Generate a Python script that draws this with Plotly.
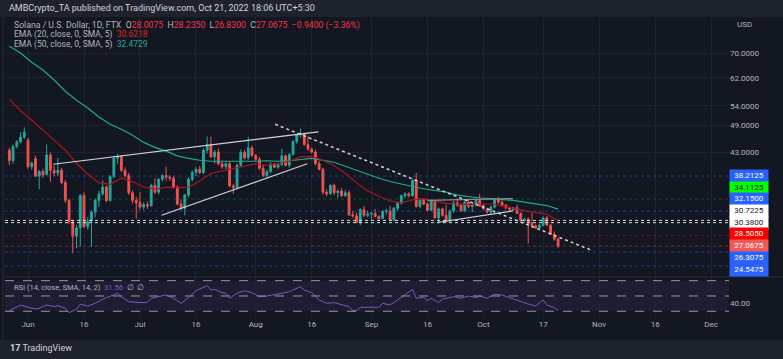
import math
import pandas as pd
import plotly.graph_objects as go

# ---------------- data ----------------
start_date = "2022-05-27"

opens = [
    43.4, 41.2, 44.2, 45.2, 46.3,
    45.6, 40.0, 41.6, 38.2, 39.1, 38.5, 42.4, 39.3, 38.8, 39.3, 37.0, 33.9, 30.5, 28.4, 29.6,
    34.7, 29.8, 30.6, 32.0, 33.9, 35.0, 36.2, 33.9, 38.1, 41.7, 42.1, 39.3, 38.3, 35.2, 33.9,
    33.5, 32.8, 33.2, 33.0, 36.5, 35.3, 37.6, 38.3, 38.0, 37.8, 36.2, 33.3, 32.6, 34.8, 37.6,
    38.9, 39.5, 38.9, 43.4, 44.6, 42.0, 43.0, 40.6, 40.0, 40.6, 36.4, 36.1, 40.3, 42.9, 41.8, 43.9,
    42.3, 41.5, 39.7, 38.3, 39.1, 40.5, 39.9, 40.4, 42.2, 40.3, 42.5, 45.3, 46.8, 47.1, 44.6,
    43.6, 43.0, 40.6, 39.5, 35.3, 35.0, 36.5, 35.2, 35.5, 34.7, 35.2, 31.6, 31.4, 30.4, 32.4, 31.5,
    31.7, 31.8, 31.3, 31.0, 32.1, 32.2, 30.8, 32.6, 33.4, 34.7, 35.0, 34.7, 37.4, 32.9, 34.0,
    33.3, 32.3, 33.8, 31.1, 32.5, 31.5, 30.6, 32.2, 33.5, 33.1, 32.2, 33.6, 32.9, 33.2, 33.9,
    33.0, 32.5, 32.0, 32.8, 34.0, 33.6, 33.1, 32.7, 32.4, 32.7, 31.8, 30.7, 30.9, 30.3, 29.9,
    29.6, 30.0, 31.1, 30.0, 28.7, 28.0075,
]
highs = [
    43.9, 44.6, 45.6, 47.4, 48.6,
    46.2, 41.0, 42.2, 39.4, 39.6, 44.6, 42.9, 40.2, 41.8, 39.8, 37.5, 34.2, 30.8, 30.0, 35.0,
    35.3, 31.2, 32.3, 34.2, 35.5, 37.4, 36.5, 38.4, 42.2, 42.6, 42.4, 39.9, 38.8, 35.6, 34.5,
    35.3, 33.6, 33.7, 36.8, 37.8, 37.8, 38.6, 40.0, 38.4, 38.2, 36.5, 34.0, 35.0, 38.0, 39.3,
    39.9, 40.2, 43.8, 46.4, 46.4, 43.4, 43.8, 41.2, 40.9, 41.0, 36.8, 40.6, 43.5, 43.4, 46.3, 44.4,
    42.6, 42.0, 40.4, 39.4, 40.9, 40.8, 40.7, 43.7, 42.5, 42.8, 45.6, 47.0, 48.3, 47.3, 46.6,
    44.0, 43.5, 41.2, 39.8, 35.8, 36.7, 36.8, 35.8, 36.0, 35.7, 35.6, 32.2, 31.9, 32.6, 33.0, 32.2,
    32.0, 32.5, 31.5, 32.3, 32.5, 33.0, 32.8, 33.7, 34.9, 35.3, 35.3, 37.6, 38.8, 34.2, 34.3,
    33.6, 34.0, 34.0, 32.7, 32.7, 33.2, 32.4, 33.8, 34.3, 33.4, 33.8, 34.2, 33.4, 34.0, 35.0,
    33.3, 32.7, 33.0, 34.3, 34.5, 34.0, 33.3, 32.9, 32.8, 33.2, 32.0, 31.1, 31.2, 31.9, 30.1,
    30.2, 31.3, 31.4, 30.2, 29.1, 28.235,
]
lows = [
    40.3, 40.6, 43.8, 44.9, 45.8,
    39.6, 39.4, 38.0, 35.8, 37.9, 38.3, 37.1, 38.2, 38.2, 36.7, 33.5, 30.2, 26.1, 26.8, 27.0,
    29.6, 29.4, 27.0, 31.2, 32.8, 34.7, 33.6, 33.7, 37.8, 40.6, 39.0, 37.9, 34.8, 33.4, 31.0,
    32.4, 32.3, 32.5, 32.9, 35.0, 34.9, 37.2, 37.3, 37.3, 35.9, 33.1, 32.3, 31.5, 34.4, 37.2,
    38.2, 38.6, 38.6, 42.7, 41.7, 40.6, 40.3, 39.6, 39.6, 36.2, 35.0, 35.9, 40.0, 41.5, 41.4, 42.0,
    41.2, 39.4, 38.0, 37.9, 38.7, 39.8, 39.6, 40.2, 40.0, 39.8, 42.3, 44.8, 46.2, 44.4, 43.3,
    42.7, 40.3, 39.3, 34.9, 34.6, 34.9, 34.8, 34.3, 34.5, 34.5, 31.4, 31.1, 30.3, 30.0, 31.2, 31.2,
    30.8, 31.2, 30.8, 30.9, 31.6, 30.6, 30.5, 32.2, 33.2, 34.3, 34.4, 34.5, 32.7, 32.6, 33.1,
    32.1, 32.2, 31.0, 30.4, 31.3, 30.4, 30.4, 31.9, 32.9, 32.0, 32.0, 32.6, 32.0, 32.9, 32.8,
    32.3, 31.8, 31.7, 32.6, 33.3, 32.9, 32.4, 32.2, 32.2, 31.7, 30.6, 30.4, 27.4, 29.7, 29.5,
    29.5, 29.9, 29.9, 28.6, 27.8, 26.83,
]
closes = [
    41.2, 44.2, 45.2, 46.3, 47.4,
    40.0, 40.7, 38.2, 39.1, 38.4, 42.4, 39.3, 38.8, 39.3, 37.0, 33.9, 30.5, 28.4, 29.6, 34.7,
    29.8, 30.6, 32.0, 33.9, 35.0, 36.2, 33.9, 38.1, 41.7, 42.1, 39.3, 38.3, 35.2, 33.9, 33.5,
    32.8, 33.2, 33.0, 36.5, 35.3, 37.6, 38.3, 38.0, 37.8, 36.2, 33.3, 32.6, 34.8, 37.6, 38.9,
    39.5, 38.9, 43.4, 44.6, 42.0, 43.0, 40.6, 40.0, 40.6, 36.4, 36.1, 40.3, 42.9, 41.8, 43.9, 42.3,
    41.5, 39.7, 38.3, 39.1, 40.5, 39.9, 40.4, 42.2, 40.3, 42.5, 45.3, 46.8, 47.1, 44.6, 43.6,
    43.0, 40.6, 39.5, 35.3, 35.0, 36.5, 35.2, 35.5, 34.7, 35.2, 31.6, 31.4, 30.4, 32.4, 31.5, 31.7,
    31.8, 31.3, 31.0, 32.1, 32.2, 30.8, 32.6, 33.4, 34.7, 35.0, 34.7, 37.4, 32.9, 34.0, 33.3,
    32.3, 33.8, 31.1, 32.5, 31.5, 30.6, 32.2, 33.5, 33.1, 32.2, 33.6, 32.9, 33.2, 33.9, 33.0,
    32.5, 32.0, 32.8, 34.0, 33.6, 33.1, 32.7, 32.4, 32.7, 31.8, 30.7, 30.9, 30.3, 29.9, 29.6,
    30.0, 31.1, 30.0, 28.7, 28.0075, 27.0675,
]

ema_dates = ["2022-05-27", "2022-05-30", "2022-06-02", "2022-06-05", "2022-06-08", "2022-06-11",
             "2022-06-14", "2022-06-17", "2022-06-20", "2022-06-23", "2022-06-26", "2022-06-29",
             "2022-07-02", "2022-07-05", "2022-07-08", "2022-07-11", "2022-07-14", "2022-07-17",
             "2022-07-20", "2022-07-23", "2022-07-26", "2022-07-29", "2022-08-01", "2022-08-04",
             "2022-08-07", "2022-08-10", "2022-08-13", "2022-08-16", "2022-08-19", "2022-08-22",
             "2022-08-25", "2022-08-28", "2022-08-31", "2022-09-03", "2022-09-06", "2022-09-09",
             "2022-09-12", "2022-09-15", "2022-09-18", "2022-09-21", "2022-09-24", "2022-09-27",
             "2022-09-30", "2022-10-03", "2022-10-06", "2022-10-09", "2022-10-12", "2022-10-15",
             "2022-10-18", "2022-10-21"]
ema20 = [55.8, 52.7, 50.3, 48.0, 45.6, 43.4, 40.7, 38.6, 37.0, 36.7, 37.8, 37.2,
         36.2, 35.8, 36.2, 36.1, 36.2, 37.3, 38.7, 39.2, 39.7, 40.1, 40.6, 40.3,
         40.6, 41.1, 42.0, 42.1, 41.3, 40.2, 38.7, 37.0, 35.5, 34.6, 33.8, 33.5,
         34.0, 34.2, 33.8, 33.4, 33.3, 33.2, 33.3, 33.3, 33.0, 32.6, 32.2, 31.95,
         31.65, 30.6218]
ema50 = [72.4, 70.0, 66.9, 64.4, 61.3, 58.0, 55.5, 53.4, 51.1, 49.3, 48.1, 46.7,
         45.1, 44.0, 43.2, 42.2, 41.7, 41.3, 41.1, 41.1, 41.0, 41.0, 41.1, 41.2,
         41.1, 41.2, 41.5, 41.7, 41.3, 40.9, 40.1, 39.3, 38.6, 37.8, 37.2, 36.7,
         36.3, 35.9, 35.6, 35.3, 34.8, 34.5, 34.3, 34.2, 34.1, 33.9, 33.6, 33.35,
         33.05, 32.4729]

rsi_dates = ["2022-05-27", "2022-05-30", "2022-06-01", "2022-06-03", "2022-06-04", "2022-06-06",
             "2022-06-08", "2022-06-09", "2022-06-11", "2022-06-12", "2022-06-14", "2022-06-15",
             "2022-06-17", "2022-06-19", "2022-06-21", "2022-06-23", "2022-06-25", "2022-06-26",
             "2022-06-28", "2022-07-01", "2022-07-03", "2022-07-04", "2022-07-06", "2022-07-08",
             "2022-07-10", "2022-07-12", "2022-07-14", "2022-07-16", "2022-07-19", "2022-07-20",
             "2022-07-21", "2022-07-23", "2022-07-24", "2022-07-25", "2022-07-27", "2022-07-29",
             "2022-07-31", "2022-08-02", "2022-08-04", "2022-08-06", "2022-08-08", "2022-08-10",
             "2022-08-13", "2022-08-14", "2022-08-16", "2022-08-18", "2022-08-20", "2022-08-22",
             "2022-08-24", "2022-08-26", "2022-08-27", "2022-08-28", "2022-08-29", "2022-09-01",
             "2022-09-03", "2022-09-04", "2022-09-06", "2022-09-08", "2022-09-10", "2022-09-11",
             "2022-09-12", "2022-09-13", "2022-09-15", "2022-09-16", "2022-09-17", "2022-09-19",
             "2022-09-20", "2022-09-23", "2022-09-25", "2022-09-27", "2022-09-29", "2022-09-30",
             "2022-10-02", "2022-10-04", "2022-10-06", "2022-10-08", "2022-10-11", "2022-10-13",
             "2022-10-15", "2022-10-17", "2022-10-18", "2022-10-20", "2022-10-21"]
rsi = [30.8, 38.2, 35.2, 33.0, 33.9, 38.2, 36.1, 37.4, 33.9, 28.2, 32.6, 39.1,
       36.9, 40.4, 45.7, 50.0, 53.5, 49.1, 42.6, 41.3, 41.7, 47.0, 49.1, 51.3,
       47.0, 40.4, 47.8, 56.9, 63.5, 57.8, 58.7, 54.3, 53.5, 47.0, 53.5, 56.9,
       54.3, 49.1, 50.0, 51.3, 53.5, 55.6, 62.2, 57.8, 54.3, 44.8, 40.4, 41.3,
       38.2, 36.1, 30.8, 30.8, 35.2, 35.2, 35.2, 40.4, 38.2, 44.8, 51.3, 54.3,
       58.7, 47.0, 48.3, 43.9, 47.0, 41.3, 45.7, 49.1, 47.0, 50.0, 47.8, 50.0,
       47.0, 52.2, 51.3, 47.8, 42.6, 39.5, 36.9, 44.8, 38.2, 34.7, 31.56]

level_prices = [38.2125, 34.1125, 32.15, 30.7225, 30.38, 28.505, 27.0675, 26.3075, 24.5475]
level_labels = ["38.2125", "34.1125", "32.1500", "30.7225", "30.3800", "28.5050",
                "27.0675", "26.3075", "24.5475"]

price_ticks = [43, 49, 54, 62, 70]
price_tick_text = ["43.0000", "49.0000", "54.0000", "62.0000", "70.0000"]

time_tick_dates = ["2022-06-01", "2022-06-16", "2022-07-01", "2022-07-16", "2022-08-01",
                   "2022-08-16", "2022-09-01", "2022-09-16", "2022-10-01", "2022-10-17",
                   "2022-11-01", "2022-11-16", "2022-12-01"]
time_tick_labels = ["Jun", "16", "Jul", "16", "Aug", "16", "Sep", "16", "Oct", "17",
                    "Nov", "16", "Dec"]

# drawn trend lines: (date, price) end points
wedge_top = (["2022-06-07 18:00", "2022-08-17 19:00"], [40.5, 47.5])
wedge_bottom = (["2022-07-06 19:00", "2022-08-14 19:00"], [31.5, 40.6])
down_dashed = (["2022-08-06 05:00", "2022-10-30 02:00"], [49.3, 26.5])
flag_top = (["2022-09-15 22:00", "2022-10-08 22:00"], [33.9, 34.2])
flag_bottom = (["2022-09-18 14:00", "2022-10-08 22:00"], [30.4, 32.2])

# ---------------- styling / layout ----------------
W, H = 783, 359
L, R, T, B = 5, 54, 17, 41
PW, PH = W - L - R, H - T - B
rsi_h = 41
split = rsi_h / PH

px_per_day = 3.733
jun1 = pd.Timestamp("2022-06-01")
x0 = jun1 - pd.Timedelta(days=(28 - L) / px_per_day)
x1 = x0 + pd.Timedelta(days=PW / px_per_day)

BG = "#131722"
UP, DOWN = "#26a69a", "#ef5350"
EMA20C, EMA50C = "#b2151a", "#1fab8a"
TXT = "#b2b5be"
FONT = "Roboto, Liberation Sans, sans-serif"

dates = pd.date_range(start_date, periods=len(closes), freq="D")

fig = go.Figure()

# horizontal level lines
lvl_style = {
    "38.2125": ("rgba(41,98,255,0.55)", "#2962ff", "white"),
    "34.1125": ("rgba(0,200,0,0.35)", "#00ff00", "#131722"),
    "32.1500": ("rgba(41,98,255,0.55)", "#2962ff", "white"),
    "30.7225": ("rgba(255,255,255,0.85)", "#ffffff", "#131722"),
    "30.3800": ("rgba(255,255,255,0.85)", "#ffffff", "#131722"),
    "28.5050": ("rgba(255,0,0,0.45)", "#ff0000", "white"),
    "27.0675": ("rgba(239,83,80,0.45)", "#f05a57", "white"),
    "26.3075": ("rgba(41,98,255,0.55)", "#2962ff", "white"),
    "24.5475": ("rgba(41,98,255,0.55)", "#2962ff", "white"),
}
for p, lab in zip(level_prices, level_labels):
    fig.add_trace(go.Scatter(x=[x0, x1], y=[p, p], mode="lines",
                             line=dict(color=lvl_style[lab][0], width=1, dash="dot"),
                             xaxis="x", yaxis="y", hoverinfo="skip"))

# EMA lines
fig.add_trace(go.Scatter(x=ema_dates, y=ema50, mode="lines", line=dict(color=EMA50C, width=1.2),
                         xaxis="x", yaxis="y", hoverinfo="skip"))
fig.add_trace(go.Scatter(x=ema_dates, y=ema20, mode="lines", line=dict(color=EMA20C, width=1.2),
                         xaxis="x", yaxis="y", hoverinfo="skip"))

# candles
fig.add_trace(go.Candlestick(
    x=dates, open=opens, high=highs, low=lows, close=closes,
    increasing=dict(line=dict(color=UP, width=1), fillcolor=UP),
    decreasing=dict(line=dict(color=DOWN, width=1), fillcolor=DOWN),
    whiskerwidth=0, xaxis="x", yaxis="y", hoverinfo="skip"))

# trend lines
for seg, col, dash, wid in [(wedge_top, "#d1d4dc", "solid", 1.2),
                            (wedge_bottom, "#d1d4dc", "solid", 1.2),
                            (flag_top, "#8a8d96", "solid", 1.2),
                            (flag_bottom, "#d1d4dc", "solid", 1.2),
                            (down_dashed, "#d1d4dc", "dot", 1.5)]:
    fig.add_trace(go.Scatter(x=seg[0], y=seg[1], mode="lines",
                             line=dict(color=col, width=wid, dash=dash),
                             xaxis="x", yaxis="y", hoverinfo="skip"))

# RSI
fig.add_trace(go.Scatter(x=rsi_dates, y=rsi, mode="lines", line=dict(color="#7e57c2", width=1),
                         xaxis="x2", yaxis="y2", hoverinfo="skip"))

shapes = []
shapes.append(dict(type="rect", xref="paper", yref="y2", x0=0, x1=1, y0=30, y1=70,
                   fillcolor="rgba(126,87,194,0.10)", line=dict(width=0), layer="below"))
for lv in (70, 50, 30):
    shapes.append(dict(type="line", xref="paper", yref="y2", x0=0, x1=1, y0=lv, y1=lv,
                       line=dict(color="#9598a1", width=1, dash="dash")))
# pane separator
shapes.append(dict(type="line", xref="paper", yref="paper", x0=0, x1=(W - L) / PW,
                   y0=split, y1=split, line=dict(color="#2a2e39", width=1)))
# left border of the chart
shapes.append(dict(type="line", xref="paper", yref="paper", x0=-2 / PW, x1=-2 / PW,
                   y0=-(B - 19) / PH, y1=1, line=dict(color="#2a2e39", width=1)))
# header and footer strips
shapes.append(dict(type="rect", xref="paper", yref="paper", x0=-L / PW, x1=(W - L) / PW,
                   y0=1, y1=1 + T / PH, fillcolor="#1e222d", line=dict(width=0), layer="below"))
shapes.append(dict(type="rect", xref="paper", yref="paper", x0=-L / PW, x1=(W - L) / PW,
                   y0=-(B - 19) / PH, y1=-B / PH, fillcolor="#1e222d", line=dict(width=0),
                   layer="below"))


def px(xp):
    return (xp - L) / PW


def py(yp):
    return (H - B - yp) / PH


ann = []
ann.append(dict(x=px(7), y=py(8), xref="paper", yref="paper", xanchor="left", yanchor="middle",
                showarrow=False, font=dict(size=9, color="#d1d4dc", family=FONT),
                text="AMBCrypto_TA published on TradingView.com, Oct 21, 2022 18:06 UTC+5:30"))
red = "#f23645"
legend1 = ("Solana / U.S. Dollar, 1D, FTX  O<span style='color:%s'>28.0075</span>  "
           "H<span style='color:%s'>28.2350</span>  L<span style='color:%s'>26.8300</span>  "
           "C<span style='color:%s'>27.0675</span>  <span style='color:%s'>−0.9400 (−3.36%%)</span>"
           % (red, red, red, red, red))
ann.append(dict(x=px(12), y=py(25.5), xref="paper", yref="paper", xanchor="left",
                yanchor="middle", showarrow=False, font=dict(size=8.7, color=TXT, family=FONT),
                text=legend1))
ann.append(dict(x=px(12), y=py(35), xref="paper", yref="paper", xanchor="left", yanchor="middle",
                showarrow=False, font=dict(size=8.5, color=TXT, family=FONT),
                text="EMA (20, close, 0, SMA, 5)  <span style='color:#e0201f'>30.6218</span>"))
ann.append(dict(x=px(12), y=py(44.5), xref="paper", yref="paper", xanchor="left",
                yanchor="middle", showarrow=False, font=dict(size=8.5, color=TXT, family=FONT),
                text="EMA (50, close, 0, SMA, 5)  <span style='color:#22ab94'>32.4729</span>"))
ann.append(dict(x=px(12), y=py(287), xref="paper", yref="paper", xanchor="left",
                yanchor="middle", showarrow=False, font=dict(size=7.5, color=TXT, family=FONT),
                text="RSI (14, close, SMA, 14, 2)  <span style='color:#7e57c2'>31.56</span>  ∅  ∅"))
ann.append(dict(x=px(735), y=py(24), xref="paper", yref="paper", xanchor="left",
                yanchor="middle", showarrow=False, font=dict(size=8, color=TXT, family=FONT),
                text="USD"))
ann.append(dict(x=px(8), y=py(348), xref="paper", yref="paper", xanchor="left",
                yanchor="middle", showarrow=False, font=dict(size=9, color="#d1d4dc", family=FONT),
                text="<b>17</b> TradingView"))

# price labels on the scale (stacked to avoid overlap)
label_centers = [175.9, 187.6, 199.3, 211.0, 222.7, 234.4, 246.1, 257.8, 269.5]
for p, lab, cy in zip(level_prices, level_labels, label_centers):
    bg, txtc = lvl_style[lab][1], lvl_style[lab][2]
    ann.append(dict(x=px(728.5), y=py(cy), xref="paper", yref="paper", xanchor="left",
                    yanchor="middle", showarrow=False, bgcolor=bg, borderpad=1, width=36,
                    height=9.5, font=dict(size=8, color=txtc, family=FONT), text=lab))

fig.update_layout(
    width=W, height=H, margin=dict(l=L, r=R, t=T, b=B),
    paper_bgcolor=BG, plot_bgcolor=BG, showlegend=False, hovermode=False,
    font=dict(family=FONT, color=TXT, size=8),
    shapes=shapes, annotations=ann,
    xaxis=dict(domain=[0, 1], anchor="y", range=[x0, x1], showticklabels=False,
               tickvals=time_tick_dates, showgrid=True, gridcolor="#1f2330", gridwidth=1,
               zeroline=False, rangeslider=dict(visible=False), showline=False, ticks=""),
    xaxis2=dict(domain=[0, 1], anchor="y2", range=[x0, x1], matches="x",
                tickvals=time_tick_dates, ticktext=time_tick_labels, showgrid=True,
                gridcolor="#1f2330", zeroline=False, showline=False, ticks="",
                tickfont=dict(size=8, color=TXT)),
    yaxis=dict(domain=[split, 1], anchor="x", type="log",
               range=[math.log10(23.25), math.log10(83.6)], side="right",
               tickvals=price_ticks, ticktext=price_tick_text, showgrid=True,
               gridcolor="#1f2330", zeroline=False, ticks="", tickfont=dict(size=8, color=TXT)),
    yaxis2=dict(domain=[0, split], anchor="x2", range=[21.2, 74.8], side="right",
                tickvals=[40], ticktext=["40.00"], showgrid=False, zeroline=False, ticks="",
                tickfont=dict(size=8, color=TXT)),
)

fig.write_html("out.html", config={"displayModeBar": False, "staticPlot": True},
               post_script="document.body.style.margin='0';document.body.style.overflow='hidden';"
                           "document.body.style.background='%s';" % BG)
